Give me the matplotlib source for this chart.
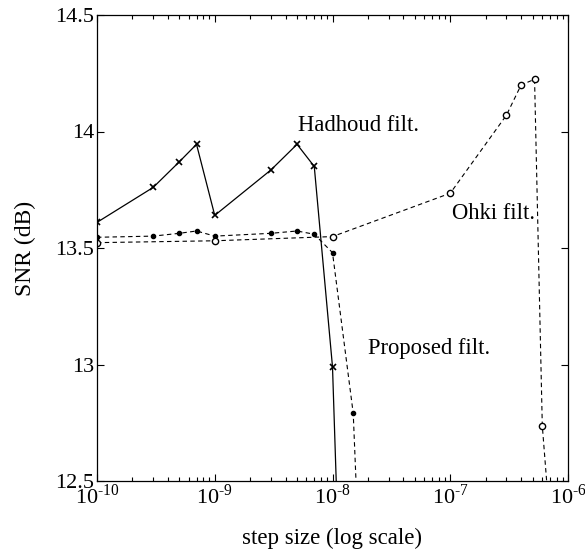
import matplotlib.pyplot as plt
import numpy as np

plt.rcParams['font.family'] = 'Liberation Serif'
plt.rcParams['mathtext.fontset'] = 'custom'
plt.rcParams['mathtext.rm'] = 'Liberation Serif'

# step sizes and SNR values (dB)
hadhoud_x = [1e-10, 3e-10, 5e-10, 7e-10, 1e-9, 3e-9, 5e-9, 7e-9, 1e-8, 1.2e-8]
hadhoud_y = [13.61, 13.76, 13.87, 13.945, 13.64, 13.835, 13.945, 13.85, 12.99, 11.76]

proposed_x = [1e-10, 3e-10, 5e-10, 7e-10, 1e-9, 3e-9, 5e-9, 7e-9, 1e-8, 1.5e-8, 1.7e-8]
proposed_y = [13.546, 13.551, 13.563, 13.573, 13.551, 13.563, 13.573, 13.559, 13.48, 12.79, 12.12]

ohki_x = [1e-10, 1e-9, 1e-8, 1e-7, 3e-7, 4e-7, 5.2e-7, 6.05e-7, 7e-7]
ohki_y = [13.523, 13.531, 13.549, 13.735, 14.07, 14.2, 14.224, 12.737, 12.33]

y_ticks = [12.5, 13, 13.5, 14, 14.5]
y_ticklabels = ['12.5', '13', '13.5', '14', '14.5']
x_ticks = [1e-10, 1e-9, 1e-8, 1e-7, 1e-6]
x_ticklabels = [r'$\mathrm{10}^{\text{-10}}$', r'$\mathrm{10}^{\text{-9}}$', r'$\mathrm{10}^{\text{-8}}$',
                r'$\mathrm{10}^{\text{-7}}$', r'$\mathrm{10}^{\text{-6}}$']

fig = plt.figure(figsize=(5.85, 5.56), dpi=100)
ax = fig.add_axes([97/585, 1 - 481/556, 471/585, 466/556])

ax.plot(hadhoud_x, hadhoud_y, color='black', lw=0.9, marker='x', ms=5, mew=1.2)
ax.plot(proposed_x, proposed_y, color='black', lw=0.8, ls=(0, (4, 3)), marker='o', ms=3)
ax.plot(ohki_x, ohki_y, color='black', lw=0.8, ls=(0, (4, 3)), marker='o', ms=4.5, mfc='white', mew=1.0)

ax.set_xscale('log')
ax.set_xlim(1e-10, 1e-6)
ax.set_ylim(12.5, 14.5)

ax.set_yticks(y_ticks)
ax.set_yticklabels(y_ticklabels, fontsize=16)
ax.set_xticks(x_ticks)
ax.set_xticklabels(x_ticklabels, fontsize=16)

ax.tick_params(which='both', direction='in', top=True, right=True, width=0.8)
ax.tick_params(which='major', length=5, pad=2)
ax.tick_params(which='minor', length=3)
for s in ax.spines.values():
    s.set_linewidth(0.9)

ax.text(5.1e-9, 14.002, 'Hadhoud filt.', fontsize=16.3, va='baseline')
ax.text(1.035e-7, 13.624, 'Ohki filt.', fontsize=16.3, va='baseline')
ax.text(2.0e-8, 13.045, 'Proposed filt.', fontsize=16.3, va='baseline')

ax.set_xlabel('step size (log scale)', fontsize=16.5, labelpad=14)
ax.set_ylabel('SNR (dB)', fontsize=17, labelpad=14)

plt.savefig('out.png', dpi=100)
plt.close()
